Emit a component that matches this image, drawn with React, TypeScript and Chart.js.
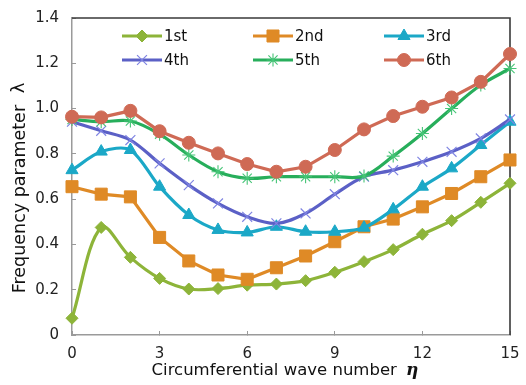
import React, { useEffect, useRef } from 'react';
import { Chart, registerables } from 'chart.js';
import { drawPoint } from 'chart.js/helpers';

Chart.register(...registerables);

// ---- data ----
const waveNumbers = [0, 1, 2, 3, 4, 5, 6, 7, 8, 9, 10, 11, 12, 13, 14, 15];
const seriesNames = ['1st', '2nd', '3rd', '4th', '5th', '6th'];
const mode1 = [0.074, 0.475, 0.343, 0.25, 0.203, 0.205, 0.22, 0.225, 0.24, 0.277, 0.324, 0.377, 0.445, 0.505, 0.586, 0.67];
const mode2 = [0.655, 0.622, 0.61, 0.431, 0.327, 0.265, 0.246, 0.297, 0.349, 0.412, 0.478, 0.512, 0.566, 0.625, 0.699, 0.773];
const mode3 = [0.728, 0.81, 0.817, 0.655, 0.53, 0.464, 0.453, 0.478, 0.456, 0.456, 0.474, 0.555, 0.655, 0.736, 0.839, 0.942];
const mode4 = [0.942, 0.902, 0.861, 0.758, 0.662, 0.581, 0.522, 0.493, 0.537, 0.622, 0.699, 0.728, 0.765, 0.809, 0.868, 0.952];
const mode5 = [0.952, 0.942, 0.945, 0.887, 0.795, 0.721, 0.692, 0.699, 0.699, 0.699, 0.702, 0.79, 0.89, 1.0, 1.104, 1.177];
const mode6 = [0.964, 0.961, 0.99, 0.9, 0.849, 0.802, 0.755, 0.721, 0.743, 0.817, 0.908, 0.967, 1.008, 1.049, 1.118, 1.241];
const xAxisTitle = 'Circumferential wave number ';
const xAxisSymbol = 'η';
const yAxisTitle = 'Frequency parameter ';
const yAxisSymbol = 'λ';
const xMin = 0, xMax = 15, xStep = 3;
const yMin = 0, yMax = 1.4, yStep = 0.2;

const allSeries = [mode1, mode2, mode3, mode4, mode5, mode6];

const FONT = "'DejaVu Sans', Verdana, sans-serif";

const styles = [
  { line: '#8DB439', fill: '#8DB439', stroke: '#8DB439', pointStyle: 'rectRot', radius: 6, pw: 1, tension: 0.35 },
  { line: '#DF8A26', fill: '#DF8A26', stroke: '#DF8A26', pointStyle: 'rect', radius: 8.5, pw: 1, tension: 0 },
  { line: '#1BA8C7', fill: '#1BA8C7', stroke: '#1BA8C7', pointStyle: 'triangle', radius: 7, pw: 1, tension: 0.3 },
  { line: '#5B60C6', fill: '#7F84E2', stroke: '#7F84E2', pointStyle: 'crossRot', radius: 7, pw: 1.2, tension: 0.35 },
  { line: '#27AE5B', fill: '#45C476', stroke: '#45C476', pointStyle: 'star', radius: 6.5, pw: 1.1, tension: 0.35 },
  { line: '#CF6A55', fill: '#CF6A55', stroke: '#CF6A55', pointStyle: 'circle', radius: 6.5, pw: 1, tension: 0 },
];

const decorPlugin = {
  id: 'decor',
  beforeDatasetsDraw(chart: any) {
    const { ctx, chartArea } = chart;
    ctx.save();
    ctx.strokeStyle = '#3a3a3a';
    ctx.lineWidth = 1.6;
    ctx.beginPath();
    ctx.moveTo(chartArea.left, chartArea.top);
    ctx.lineTo(chartArea.right, chartArea.top);
    ctx.lineTo(chartArea.right, chartArea.bottom);
    ctx.stroke();
    ctx.restore();
  },
  afterDraw(chart: any) {
    const { ctx, chartArea } = chart;
    ctx.save();
    // legend (3 columns x 2 rows, inside the plot)
    const colStart = chartArea.left + 50;
    const colGap = 131;
    const rowTop = chartArea.top + 18;
    const rowGap = 24;
    const lineLen = 40;
    ctx.font = `15px ${FONT}`;
    ctx.textBaseline = 'middle';
    ctx.textAlign = 'left';
    chart.data.datasets.forEach((ds: any, i: number) => {
      const col = i % 3;
      const row = Math.floor(i / 3);
      const x0 = colStart + col * colGap;
      const y = rowTop + row * rowGap;
      ctx.strokeStyle = ds.borderColor;
      ctx.lineWidth = ds.borderWidth;
      ctx.lineCap = 'butt';
      ctx.beginPath();
      ctx.moveTo(x0, y);
      ctx.lineTo(x0 + lineLen, y);
      ctx.stroke();
      ctx.fillStyle = ds.pointBackgroundColor;
      ctx.strokeStyle = ds.pointBorderColor;
      ctx.lineWidth = ds.pointBorderWidth;
      drawPoint(ctx, { pointStyle: ds.pointStyle, rotation: 0, radius: ds.pointRadius, borderWidth: ds.pointBorderWidth }, x0 + lineLen / 2, y);
      ctx.fillStyle = '#111';
      ctx.fillText(ds.label, x0 + lineLen + 2, y + 1);
    });

    // x axis title
    ctx.fillStyle = '#111';
    ctx.textBaseline = 'middle';
    ctx.font = `16.5px ${FONT}`;
    const w1 = ctx.measureText(xAxisTitle).width;
    ctx.font = `italic bold 17px 'DejaVu Serif', serif`;
    const w2 = ctx.measureText(xAxisSymbol).width;
    const cx = (chartArea.left + chartArea.right) / 2 - 6;
    const sx = cx - (w1 + 4 + w2) / 2;
    ctx.font = `16.5px ${FONT}`;
    ctx.textAlign = 'left';
    ctx.fillText(xAxisTitle, sx, 371);
    ctx.font = `italic bold 17px 'DejaVu Serif', serif`;
    ctx.fillText(xAxisSymbol, sx + w1 + 4, 371);

    // y axis title
    ctx.translate(20.5, 188);
    ctx.rotate(-Math.PI / 2);
    ctx.textAlign = 'left';
    ctx.font = `17.5px ${FONT}`;
    const v1 = ctx.measureText(yAxisTitle).width;
    ctx.font = `18px ${FONT}`;
    const v2 = ctx.measureText(yAxisSymbol).width;
    const gap = 6;
    const start = -(v1 + gap + v2) / 2;
    ctx.font = `17.5px ${FONT}`;
    ctx.fillText(yAxisTitle, start, 0);
    ctx.font = `18px ${FONT}`;
    ctx.fillText(yAxisSymbol, start + v1 + gap, -1);
    ctx.restore();
  },
};

export default function App() {
  const canvasRef = useRef<HTMLCanvasElement | null>(null);

  useEffect(() => {
    document.body.style.margin = '0';
    const canvas = canvasRef.current;
    if (!canvas) return;
    const datasets = allSeries.map((vals, i) => {
      const s = styles[i];
      return {
        label: seriesNames[i],
        data: waveNumbers.map((x, j) => ({ x, y: vals[j] })),
        borderColor: s.line,
        backgroundColor: s.fill,
        pointBackgroundColor: s.fill,
        pointBorderColor: s.stroke,
        pointStyle: s.pointStyle,
        pointRadius: s.radius,
        pointBorderWidth: s.pw,
        borderWidth: 3.2,
        tension: s.tension,
        clip: false,
        order: allSeries.length - i,
      };
    });

    const zeroPad = (s: any) => {
      s.paddingLeft = 0;
      s.paddingRight = 0;
      s.paddingTop = 0;
      s.paddingBottom = 0;
    };

    const chart = new Chart(canvas, {
      type: 'line',
      data: { datasets },
      options: {
        animation: false,
        responsive: false,
        devicePixelRatio: 1,
        layout: { padding: { top: 18, right: 16, left: 0, bottom: 0 } },
        plugins: {
          legend: { display: false },
          tooltip: { enabled: false },
          title: { display: false },
        },
        scales: {
          x: {
            type: 'linear',
            min: xMin,
            max: xMax,
            ticks: { stepSize: xStep, color: '#222', padding: 14, font: { family: FONT, size: 15 } },
            grid: { drawOnChartArea: false, tickLength: -4, tickColor: '#9a9a9a', lineWidth: 1 },
            border: { color: '#9a9a9a', width: 1.5 },
            afterFit: (s: any) => { s.height = 50; zeroPad(s); },
          },
          y: {
            type: 'linear',
            min: yMin,
            max: yMax,
            ticks: { stepSize: yStep, color: '#222', padding: 17, font: { family: FONT, size: 15 } },
            grid: { drawOnChartArea: false, tickLength: -4, tickColor: '#9a9a9a', lineWidth: 1 },
            border: { color: '#9a9a9a', width: 1.5 },
            afterFit: (s: any) => { s.width = 72; zeroPad(s); },
          },
        },
      },
      plugins: [decorPlugin],
    } as any);

    return () => chart.destroy();
  }, []);

  return (
    <div style={{ width: 526, height: 385 }}>
      <canvas ref={canvasRef} width={526} height={385} />
    </div>
  );
}
